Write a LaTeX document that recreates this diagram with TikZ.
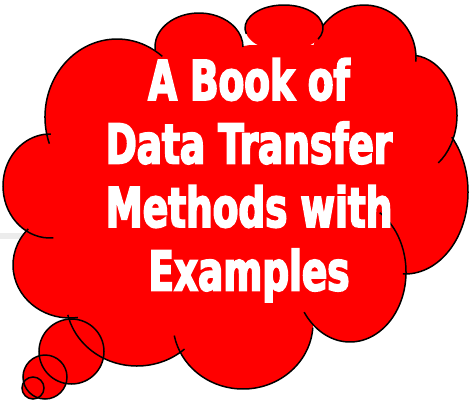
\documentclass[tikz,border=0pt]{standalone}
\usepackage{fontspec}
\newfontfamily\bookfont{DejaVu Sans}[FakeStretch=0.68, FakeBold=3]

\begin{document}
\begin{tikzpicture}[x=1pt, y=-1pt,
    puff/.style={fill=red},
    puffline/.style={draw=black, line width=1.5pt},
    title/.style={text=white, anchor=base, inner sep=0pt,
	font=\bookfont\bfseries\fontsize{55}{63}\selectfont}]
    \useasboundingbox (0, 0) rectangle (470, 399);
    \fill [gray!15] (0, 233) rectangle (40, 239);

    \fill [puff] (117, 117) ellipse [x radius=72, y radius=78];
    \fill [puff] (199, 47) ellipse [x radius=44, y radius=34];
    \fill [puff] (284, 28) ellipse [x radius=39, y radius=23];
    \fill [puff] (364, 58) ellipse [x radius=52, y radius=53];
    \fill [puff] (410, 115) ellipse [x radius=47, y radius=60];
    \fill [puff] (405, 192) ellipse [x radius=63, y radius=82];
    \fill [puff] (350, 272) ellipse [x radius=56, y radius=70];
    \fill [puff] (243, 323) ellipse [x radius=70, y radius=66];
    \fill [puff] (137, 300) ellipse [x radius=71, y radius=66];
    \fill [puff] (70, 265) ellipse [x radius=57, y radius=53];
    \fill [puff] (50, 186) ellipse [x radius=47, y radius=52];
    \fill [puff] (60, 150) -- (160, 60) -- (250, 45) -- (330, 45) -- (420, 80)
	-- (440, 170) -- (400, 270) -- (320, 320) -- (180, 340) -- (80, 300)
	-- (30, 230) -- cycle;
    \fill [puff] (71.5, 351.5) circle [radius=32.5];
    \fill [puff] (45, 377) circle [radius=22];
    \fill [puff] (33, 388) circle [radius=11];

    \draw [puffline] (117, 117) ++(160:72 and 78)
	arc [start angle=160, end angle=309, x radius=72, y radius=78];
    \draw [puffline] (199, 47) ++(175:44 and 34)
	arc [start angle=175, end angle=360, x radius=44, y radius=34];
    \draw [puffline] (284, 28) ++(165:39 and 23)
	arc [start angle=165, end angle=389, x radius=39, y radius=23];
    \draw [puffline] (364, 58) ++(217:52 and 53)
	arc [start angle=217, end angle=364, x radius=52, y radius=53];
    \draw [puffline] (410, 115) ++(277:47 and 60)
	arc [start angle=277, end angle=413, x radius=47, y radius=60];
    \draw [puffline] (405, 192) ++(-42:63 and 82)
	arc [start angle=-42, end angle=92, x radius=63, y radius=82];
    \draw [puffline] (350, 272) ++(-58:56 and 70)
	arc [start angle=-58, end angle=145, x radius=56, y radius=70];
    \draw [puffline] (243, 323) ++(4:70 and 66)
	arc [start angle=4, end angle=169, x radius=70, y radius=66];
    \draw [puffline] (137, 300) ++(48:71 and 66)
	arc [start angle=48, end angle=167, x radius=71, y radius=66];
    \draw [puffline] (70, 265) ++(82:57 and 53)
	arc [start angle=82, end angle=223, x radius=57, y radius=53];
    \draw [puffline] (50, 186) ++(86:47 and 52)
	arc [start angle=86, end angle=271, x radius=47, y radius=52];
    \draw [puffline] (71.5, 351.5) circle [radius=32.5];
    \draw [puffline] (45, 377) circle [radius=22];
    \draw [puffline] (33, 388) circle [radius=11];

    \path (249, 100) node [title] (ab) {A Book of};
    \path (249, 163.5) node [title] (dt) {Data Transfer};
    \path (249, 227) node [title] (mw) {Methods with};
    \path (249, 290.5) node [title] (ex) {Examples};
\end{tikzpicture}
\end{document}
